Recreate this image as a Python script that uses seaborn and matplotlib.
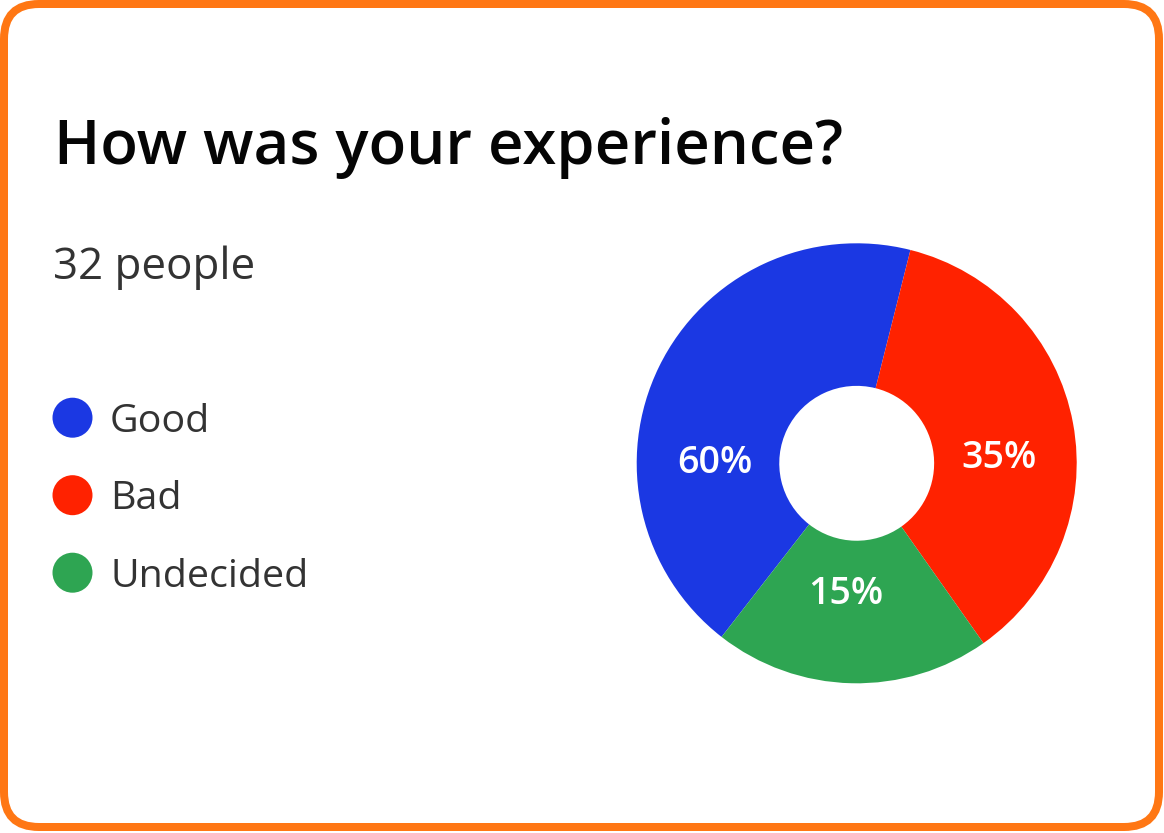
import numpy as np
import matplotlib
matplotlib.use("Agg")
import matplotlib.pyplot as plt
import seaborn as sns
from matplotlib.patches import FancyBboxPatch

# data
categories = ["Good", "Bad", "Undecided"]
slice_shares = [43.4, 36.3, 20.3]          # share of the ring each slice covers
label_text = ["60%", "35%", "15%"]
colors = ["#1B38E3", "#FF2200", "#2EA552"]
title = "How was your experience?"
subtitle = "32 people"

sns.set_theme(style="white")
plt.rcParams['font.family'] = ['Open Sans', 'DejaVu Sans']

W, H = 1164, 833
fig = plt.figure(figsize=(W / 100, H / 100), dpi=100)
fig.patch.set_facecolor("white")

# full-figure layer in pixel units for frame, title and legend
bg = fig.add_axes([0, 0, 1, 1])
bg.set_xlim(0, W)
bg.set_ylim(H, 0)
bg.axis("off")

frame = FancyBboxPatch((4, 4), 1155, 823,
                       boxstyle="round,pad=0,rounding_size=35",
                       facecolor="white", edgecolor="#FF7714",
                       linewidth=8 * 0.72)
bg.add_patch(frame)

bg.text(54, 164, title, fontsize=44.4, fontweight="semibold",
        color="#050505", va="baseline", ha="left")
bg.text(53, 279, subtitle, fontsize=31.6, color="#333333",
        va="baseline", ha="left")

# legend: dots + names
leg_y = 417.7 + 77.5 * np.arange(len(categories))
sns.scatterplot(x=[72.5] * len(categories), y=leg_y, hue=categories,
                palette=colors, s=(40 * 0.72) ** 2, linewidth=0,
                legend=False, ax=bg)
for name, y in zip(categories, leg_y):
    bg.text(110, y + 14, name, fontsize=28.4, color="#333333",
            va="baseline", ha="left")

# donut
cx, cy, R = 856.7, 463.3, 220
ax = fig.add_axes([(cx - R) / W, (H - cy - R) / H, 2 * R / W, 2 * R / H])
wedges, _ = ax.pie(slice_shares, colors=colors, startangle=-127.9,
                   counterclock=False, radius=1.0,
                   wedgeprops=dict(width=1 - 0.352, linewidth=0))
ax.set_xlim(-1, 1)
ax.set_ylim(-1, 1)
ax.axis("off")

# label placement (polar, degrees / radius fraction)
label_pos = [(178.4, 0.645), (3.7, 0.648), (-94.8, 0.577)]
for txt, (ang, rad) in zip(label_text, label_pos):
    a = np.deg2rad(ang)
    ax.text(rad * np.cos(a), rad * np.sin(a) - 0.018, txt, color="white",
            fontsize=27, fontweight="semibold", ha="center", va="center")

fig.savefig("out.png", dpi=100)
